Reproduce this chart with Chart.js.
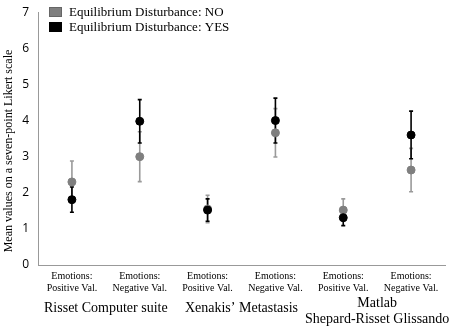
<!DOCTYPE html>
<html><head><meta charset="utf-8">
<script src="https://cdn.jsdelivr.net/npm/chart.js@4"></script>
<style>html,body{margin:0;padding:0;background:#fff;}#wrap{width:454px;height:329px;}</style>
</head><body><div id="wrap"><canvas id="c" width="454" height="329"></canvas></div>
<script>
const categories = [["Emotions:","Positive Val."],["Emotions:","Negative Val."],["Emotions:","Positive Val."],["Emotions:","Negative Val."],["Emotions:","Positive Val."],["Emotions:","Negative Val."]];
const groups = [["Risset Computer suite"],["Xenakis\u2019 Metastasis"],["Matlab","Shepard-Risset Glissando"]];
const seriesNames = ["Equilibrium Disturbance: NO","Equilibrium Disturbance: YES"];
const yTitle = 'Mean values on a seven-point Likert scale';
const noMeans = [2.30, 3.00, 1.55, 3.66, 1.52, 2.63];
const noErr   = [0.58, 0.69, 0.38, 0.67, 0.31, 0.60];
const yesMeans = [1.81, 3.98, 1.52, 4.00, 1.31, 3.60];
const yesErr   = [0.35, 0.60, 0.31, 0.62, 0.22, 0.66];
const yTicks = [0,1,2,3,4,5,6,7];

const COL_NO = '#7f7f7f', COL_NO_BAR = '#9a9a9a', COL_YES = '#000000';
const serif = '"Liberation Serif","Times New Roman",serif';

const errPlugin = {
  id:'err',
  beforeDatasetsDraw(chart){
    const ctx = chart.ctx, y = chart.scales.y, x = chart.scales.x;
    const sets = [[noMeans,noErr,COL_NO_BAR],[yesMeans,yesErr,COL_YES]];
    ctx.save();
    sets.forEach(([m,e,c])=>{
      ctx.strokeStyle=c; ctx.lineWidth=1.6;
      m.forEach((v,i)=>{
        const px = x.getPixelForValue(i);
        const t = y.getPixelForValue(v+e[i]), b = y.getPixelForValue(v-e[i]);
        ctx.beginPath();
        ctx.moveTo(px,t); ctx.lineTo(px,b);
        ctx.moveTo(px-2,t); ctx.lineTo(px+2,t);
        ctx.moveTo(px-2,b); ctx.lineTo(px+2,b);
        ctx.stroke();
      });
    });
    ctx.restore();
  },
  afterDraw(chart){
    const ctx = chart.ctx, x = chart.scales.x;
    ctx.save();
    ctx.fillStyle='#000'; ctx.textAlign='center'; ctx.textBaseline='middle';
    // y title
    ctx.save();
    ctx.translate(9,151); ctx.rotate(-Math.PI/2);
    ctx.font='12px '+serif; ctx.fillText(yTitle,0,0);
    ctx.restore();
    // group labels
    ctx.font = '14px '+serif;
    groups.forEach((g,i)=>{
      const cx = (x.getPixelForValue(2*i)+x.getPixelForValue(2*i+1))/2;
      if(g.length===1){ ctx.fillText(g[0],cx,308); }
      else { ctx.fillText(g[0],cx,303); ctx.fillText(g[1],cx,319); }
    });
    // legend
    const cols=[COL_NO,COL_YES];
    ctx.font='13px '+serif; ctx.textAlign='left';
    seriesNames.forEach((n,i)=>{
      const yy = 12+i*15;
      ctx.fillStyle=cols[i]; ctx.fillRect(49,yy-5,13,10);
      ctx.strokeStyle = i===0?'#666':'#000'; ctx.lineWidth=1; ctx.strokeRect(49.5,yy-4.5,12,9);
      ctx.fillStyle='#000'; ctx.fillText(n,69,yy+1);
    });
    ctx.restore();
  }
};

new Chart(document.getElementById('c'),{
  type:'line',
  data:{
    labels: categories,
    datasets:[
      {label:seriesNames[0], data:noMeans, showLine:false, pointRadius:4, pointHoverRadius:4, pointBackgroundColor:COL_NO, pointBorderColor:COL_NO, borderColor:COL_NO, order:2},
      {label:seriesNames[1], data:yesMeans, showLine:false, pointRadius:4, pointHoverRadius:4, pointBackgroundColor:COL_YES, pointBorderColor:COL_YES, borderColor:COL_YES, order:1}
    ]
  },
  options:{
    responsive:false, animation:false,
    layout:{padding:{top:7,right:9,left:0,bottom:0}},
    plugins:{legend:{display:false}, tooltip:{enabled:false}},
    scales:{
      x:{
        offset:true,
        grid:{display:false, drawTicks:false},
        border:{color:'#999', width:1},
        ticks:{color:'#000', font:{family:serif,size:10}, maxRotation:0, autoSkip:false, padding:5},
        afterFit(s){ s.height = 64; }
      },
      y:{
        min:0,max:7,
        afterBuildTicks(s){ s.ticks = yTicks.map(v=>({value:v})); },
        grid:{display:false, drawTicks:true, tickLength:4, tickColor:'#999'},
        border:{color:'#999', width:1},
        ticks:{color:'#000', font:{family:'"Open Sans",Arial,sans-serif',size:12}, padding:5},
        afterFit(s){ s.width = 38; }
      }
    }
  },
  plugins:[errPlugin]
});
</script></body></html>
